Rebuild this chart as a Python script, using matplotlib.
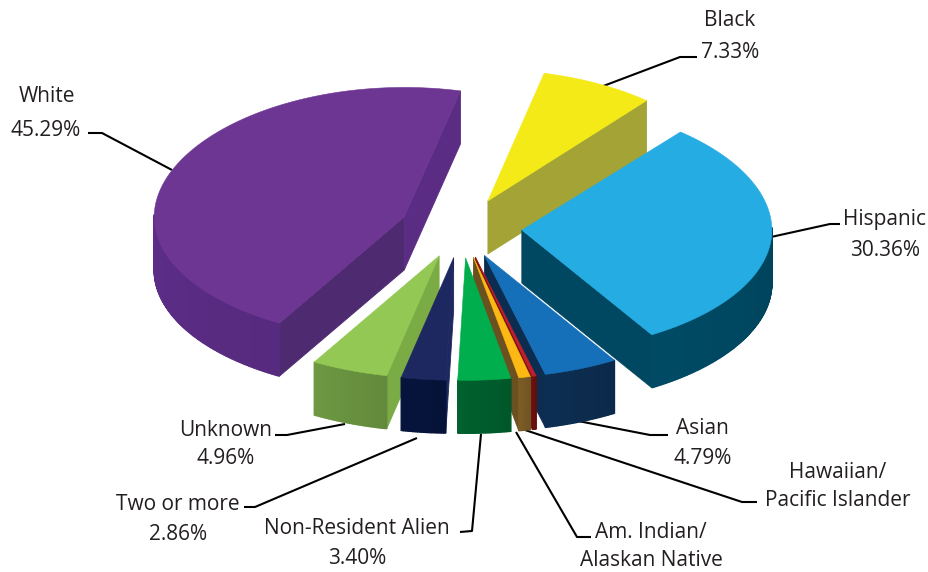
import matplotlib
matplotlib.use("Agg")
import matplotlib.pyplot as plt
import numpy as np

# clockwise from the first slice
groups = ["Black", "Hispanic", "Asian", "Hawaiian", "Am. Indian",
          "Non-Resident Alien", "Two or more", "Unknown", "White"]
shares = [7.33, 30.36, 4.79, 0.25, 0.76, 3.40, 2.86, 4.96, 45.29]

top_colors = ["#F4EA18", "#25ACE3", "#166FB9", "#BE1E2D", "#FDB913",
              "#00AE4D", "#1E2860", "#92C853", "#6D3693"]
wall_colors = ["#A3A336", "#004862", "#0C2D50", "#6B0F0F", "#7A5B26",
               "#005E2D", "#06143C", "#6A9440", "#5A2C84"]
start_walls = ["#A3A336", "#004862", "#0C2D50", "#6B0F0F", "#6B5020",
               "#005E2D", "#1E2860", "#7AAB45", "#4E2A70"]
end_walls = ["#A3A336", "#004862", "#0C2D50", "#6B0F0F", "#6B5020",
             "#005E2D", "#1E2860", "#7AAB45", "#5A2C84"]

start_angle = 13.0
explode = 61.0
radius = 250.0
tilt = 0.49
spread = 0.0
lift = 6.0
depth = 53.0
cx, cy = 461.0, 228.0


def project(u, v):
    vn = v / radius
    return cx + u * (1 + spread * vn), cy - tilt * v - lift * np.maximum(vn, 0) ** 2


def blend(c, f):
    rgb = np.array(matplotlib.colors.to_rgb(c))
    return tuple(np.clip(rgb * f, 0, 1))


def mid_order(a0, a1):
    # slices nearer the viewer are painted later
    return 2 - np.cos(np.radians((a0 + a1) / 2))


def draw_slice(ax, a0, a1, top, wall, w_start, w_end):
    mid = np.radians((a0 + a1) / 2)
    ox, oy = explode * np.sin(mid), explode * np.cos(mid)
    th = np.radians(np.linspace(a0, a1, max(int(a1 - a0) * 2, 6)))
    u = ox + radius * np.sin(th)
    v = oy + radius * np.cos(th)
    arc_x, arc_y = project(u, v)
    ap_x, ap_y = project(np.array([ox]), np.array([oy]))
    z = mid_order(a0, a1)

    # cut faces, only the ones turned to the viewer
    if np.sin(th[0]) < 0:
        ax.fill([ap_x[0], arc_x[0], arc_x[0], ap_x[0]],
                [ap_y[0], arc_y[0], arc_y[0] + depth, ap_y[0] + depth],
                color=w_start, lw=0.6, zorder=z)
    if np.sin(th[-1]) > 0:
        ax.fill([ap_x[0], arc_x[-1], arc_x[-1], ap_x[0]],
                [ap_y[0], arc_y[-1], arc_y[-1] + depth, ap_y[0] + depth],
                color=w_end, lw=0.6, zorder=z)

    # outer wall, split in strips to get the gradient
    order = np.argsort(arc_x)
    rank = np.empty(len(th), dtype=int)
    rank[order] = np.arange(len(th))
    for i in range(len(th) - 1):
        if np.cos(th[i]) > 0.02 and np.cos(th[i + 1]) > 0.02:
            continue
        f = 1.03 - 0.10 * rank[i] / (len(th) - 1)
        ax.fill([arc_x[i], arc_x[i + 1], arc_x[i + 1], arc_x[i]],
                [arc_y[i], arc_y[i + 1], arc_y[i + 1] + depth, arc_y[i] + depth],
                color=blend(wall, f), lw=1.0, zorder=z)

    ax.fill(np.r_[ap_x, arc_x], np.r_[ap_y, arc_y], color=top, lw=0.4, zorder=z + 0.01)


fig = plt.figure(figsize=(9.29, 5.72), dpi=100)
ax = fig.add_axes([0, 0, 1, 1])
ax.set_xlim(0, 929)
ax.set_ylim(572, 0)
ax.axis("off")

angles = start_angle + np.r_[0, np.cumsum(shares)] / np.sum(shares) * 360
for i in range(len(shares)):
    draw_slice(ax, angles[i], angles[i + 1], top_colors[i], wall_colors[i],
               start_walls[i], end_walls[i])

# leader lines
leaders = [
    ([598, 680, 697], [88, 57, 57]),
    ([771, 830, 840], [237, 224, 224]),
    ([172, 102, 88], [170, 133, 133]),
    ([578, 650, 668], [421, 435, 435]),
    ([525, 742, 757], [430, 502, 502]),
    ([516, 577, 591], [432, 537, 537]),
    ([481, 472, 460], [434, 531, 532]),
    ([417, 255, 244], [438, 507, 507]),
    ([345, 287, 275], [424, 435, 435]),
]
for xs, ys in leaders:
    ax.plot(xs, ys, color="black", lw=1.5, zorder=1, solid_capstyle="butt")

labels = [
    (730, 20, "Black"), (730, 52, "7.33%"),
    (885, 220, "Hispanic"), (885, 251, "30.36%"),
    (47, 97, "White"), (46, 130, "45.29%"),
    (702, 429, "Asian"), (703, 458, "4.79%"),
    (838, 472, "Hawaiian/"), (838, 501, "Pacific Islander"),
    (651, 533, "Am. Indian/"), (651, 561, "Alaskan Native"),
    (357, 529, "Non-Resident Alien"), (357, 558, "3.40%"),
    (178, 504, "Two or more"), (178, 534, "2.86%"),
    (226, 430, "Unknown"), (226, 459, "4.96%"),
]
for x, y, txt in labels:
    ax.text(x, y, txt, ha="center", va="center", fontsize=15,
            family="Open Sans", color="#231F20", zorder=10)

fig.savefig("out.png", dpi=100)
